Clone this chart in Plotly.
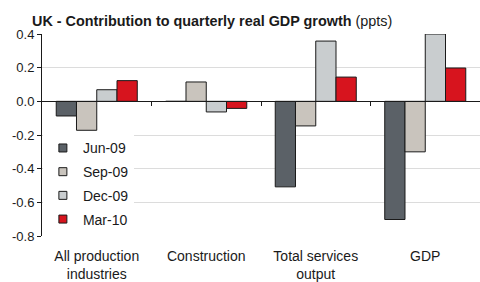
import plotly.graph_objects as go

categories = ["All production<br>industries", "Construction", "Total services<br>output", "GDP"]
series_names = ["Jun-09", "Sep-09", "Dec-09", "Mar-10"]
jun09 = [-0.087, 0.0, -0.508, -0.702]
sep09 = [-0.172, 0.115, -0.146, -0.300]
dec09 = [0.069, -0.063, 0.358, 0.400]
mar10 = [0.123, -0.042, 0.144, 0.198]
series_values = [jun09, sep09, dec09, mar10]
colors = ["#5b6167", "#c9c4bd", "#c9cdcf", "#d7141e"]
y_range = [-0.8, 0.4]
y_ticks = [-0.8, -0.6, -0.4, -0.2, 0.0, 0.2, 0.4]
y_ticklabels = ["-0.8", "-0.6", "-0.4", "-0.2", "0.0", "0.2", "0.4"]

FONT = "Liberation Sans, Arial, sans-serif"

fig = go.Figure()
for name, vals, col in zip(series_names, series_values, colors):
    fig.add_trace(go.Bar(
        x=categories, y=vals, name=name, showlegend=False,
        marker=dict(color=col, line=dict(color="#1a1a1a", width=1)),
    ))
# legend entries (small square markers)
for i, (name, col) in enumerate(zip(series_names, colors)):
    fig.add_trace(go.Scatter(
        x=[None], y=[None], mode="markers", name=name, legendgroup=f"g{i}",
        marker=dict(symbol="square", size=8, color=col, line=dict(color="#1a1a1a", width=1)),
    ))

# zero line with category-boundary tick marks
zero_frac = (0 - y_range[0]) / (y_range[1] - y_range[0])

fig.update_layout(
    width=480, height=282,
    margin=dict(l=42, r=0, t=34, b=46),
    paper_bgcolor="white", plot_bgcolor="white",
    font=dict(family=FONT, size=13, color="#1a1a1a"),
    barmode="group", bargap=0.26, bargroupgap=0,
    showlegend=True,
    legend=dict(
        x=0.002, y=0.513, xanchor="left", yanchor="top",
        bgcolor="white", borderwidth=0, tracegroupgap=2.5,
        font=dict(family=FONT, size=14, color="#1a1a1a"),
    ),
    xaxis=dict(
        type="category", showgrid=False, showline=False, ticks="",
        tickfont=dict(family=FONT, size=14, color="#1a1a1a"),
        range=[-0.5, 3.5], fixedrange=True, ticklabelstandoff=10,
    ),
    xaxis2=dict(
        overlaying="x", anchor="free", position=zero_frac, side="bottom",
        range=[-0.5, 3.5], showline=True, linecolor="#1a1a1a", linewidth=1,
        tickmode="array", tickvals=[0.5, 1.5, 2.5], ticktext=["", "", ""],
        ticks="outside", ticklen=4, tickcolor="#1a1a1a", showgrid=False,
        zeroline=False,
    ),
    yaxis=dict(
        range=y_range, tickmode="array", tickvals=y_ticks, ticktext=y_ticklabels,
        showgrid=True, gridcolor="#dcdcdc", gridwidth=1,
        zeroline=False, showline=True, linecolor="#1a1a1a", linewidth=1,
        ticks="outside", ticklen=4, tickcolor="#1a1a1a",
        tickfont=dict(family=FONT, size=13, color="#1a1a1a"),
    ),
    annotations=[dict(
        text="<b>UK - Contribution to quarterly real GDP growth</b> (ppts)",
        xref="paper", yref="paper", x=-0.028, y=1.0, xanchor="left", yanchor="bottom",
        yshift=3, showarrow=False, font=dict(family=FONT, size=14.4, color="#1a1a1a"),
    )],
)
fig.add_trace(go.Scatter(x=[None], y=[None], xaxis="x2", showlegend=False, hoverinfo="skip"))

fig.write_html(
    "out.html",
    config={"displayModeBar": False},
    post_script="document.body.style.margin='0';document.body.style.overflow='hidden';",
)
